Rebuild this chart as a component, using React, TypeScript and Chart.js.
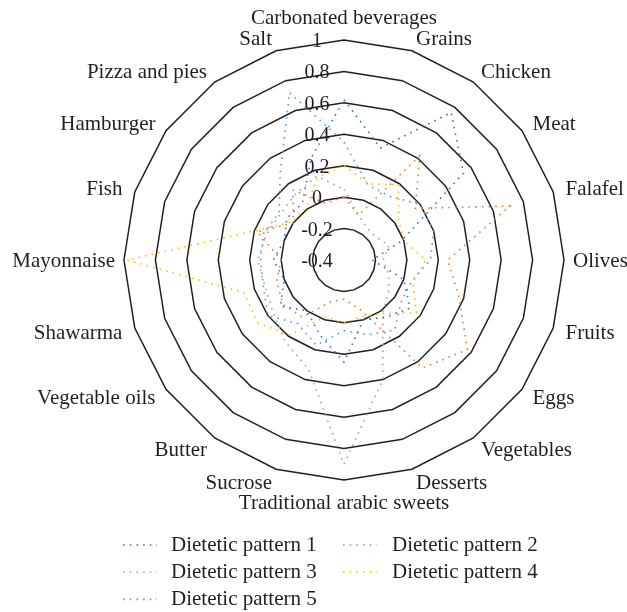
import React, { useEffect, useRef } from "react";
import { Chart, registerables } from "chart.js";

Chart.register(...registerables);

const categories = [
  "Carbonated beverages", "Grains", "Chicken", "Meat", "Falafel", "Olives",
  "Fruits", "Eggs", "Vegetables", "Desserts", "Traditional arabic sweets",
  "Sucrose", "Butter", "Vegetable oils", "Shawarma", "Mayonnaise", "Fish",
  "Hamburger", "Pizza and pies", "Salt",
];

const tickValues = [-0.4, -0.2, 0, 0.2, 0.4, 0.6, 0.8, 1];
const tickLabels = ["-0.4", "-0.2", "0", "0.2", "0.4", "0.6", "0.8", "1"];

const seriesNames = [
  "Dietetic pattern 1", "Dietetic pattern 2", "Dietetic pattern 3",
  "Dietetic pattern 4", "Dietetic pattern 5",
];
const seriesColors = ["#3574c4", "#ed7d31", "#a5a5a5", "#ffc000", "#4aa3df"];

const pattern1 = [0.62, 0.35, 0.76, 0.54, -0.02, -0.22, 0.0, 0.12, 0.05, 0.0, 0.25, 0.1, 0.0, 0.1, 0.0, 0.05, 0.0, 0.05, 0.05, 0.28];
const pattern2 = [0.0, -0.1, 0.42, 0.16, 0.71, 0.26, 0.37, 0.57, 0.45, -0.07, -0.15, -0.12, 0.05, 0.08, 0.05, 0.0, 0.18, 0.0, 0.15, -0.02];
const pattern3 = [0.05, -0.1, -0.15, -0.15, -0.1, -0.15, -0.1, -0.05, 0.02, 0.4, 0.9, 0.33, 0.24, 0.16, 0.13, 0.15, 0.12, 0.1, 0.12, 0.16];
const pattern4 = [0.2, 0.11, 0.19, 0.03, 0.0, 0.12, 0.06, 0.17, 0.02, -0.02, 0.0, -0.02, 0.19, 0.28, 0.27, 0.98, 0.2, 0.01, 0.01, 0.15];
const pattern5 = [0.35, 0.1, 0.1, 0.2, 0.2, 0.15, 0.05, 0.05, 0.15, 0.1, 0.05, 0.17, 0.1, 0.2, 0.14, 0.13, 0.14, 0.11, 0.29, 0.72];

const seriesData = [pattern1, pattern2, pattern3, pattern4, pattern5];

const FONT = '"Liberation Serif", "Times New Roman", serif';
const TEXT = "#231f20";
const DASH = [1.6, 5.1];

const textPlugin = {
  id: "textPlugin",
  afterDraw(chart: any) {
    const scale = chart.scales.r;
    const ctx = chart.ctx as CanvasRenderingContext2D;
    ctx.save();
    ctx.fillStyle = TEXT;
    ctx.textBaseline = "alphabetic";

    // category labels
    ctx.font = `21px ${FONT}`;
    const R = scale.drawingArea;
    const n = categories.length;
    categories.forEach((label, i) => {
      const ang = (i * 360) / n;
      const gap = ang === 90 || ang === 270 ? 9 : 13;
      const p = scale.getPointPosition(i, R + gap);
      let y = p.y + 7;
      let align: CanvasTextAlign = "left";
      if (ang === 0) { align = "center"; y = p.y - 3; }
      else if (ang === 180) { align = "center"; y = p.y + 16; }
      else align = ang < 180 ? "left" : "right";
      ctx.textAlign = align;
      ctx.fillText(label, p.x, y);
    });

    // tick labels
    ctx.font = `20px ${FONT}`;
    ctx.textAlign = "center";
    tickValues.forEach((v, i) => {
      const d = scale.getDistanceFromCenterForValue(v);
      ctx.fillText(tickLabels[i], scale.xCenter - 27, scale.yCenter - d + 7);
    });

    // legend
    ctx.font = `21px ${FONT}`;
    ctx.textAlign = "left";
    seriesNames.forEach((name, i) => {
      const col = i % 2;
      const row = Math.floor(i / 2);
      const lx = col ? 343 : 123;
      const tx = col ? 392 : 171;
      const ry = 544 + row * 27.2;
      ctx.save();
      ctx.strokeStyle = seriesColors[i];
      ctx.lineWidth = 1.6;
      ctx.setLineDash(DASH);
      ctx.beginPath();
      ctx.moveTo(lx, ry + 1);
      ctx.lineTo(lx + 34, ry + 1);
      ctx.stroke();
      ctx.restore();
      ctx.fillStyle = TEXT;
      ctx.fillText(name, tx, ry + 7);
    });
    ctx.restore();
  },
};

export default function App() {
  const ref = useRef<HTMLCanvasElement | null>(null);
  useEffect(() => {
    if (!ref.current) return;
    const chart = new Chart(ref.current, {
      type: "radar",
      data: {
        labels: categories,
        datasets: seriesNames.map((name, i) => ({
          label: name,
          data: seriesData[i],
          borderColor: seriesColors[i],
          backgroundColor: "transparent",
          borderWidth: 1.6,
          borderDash: DASH,
          pointRadius: 0,
          pointHoverRadius: 0,
          fill: false,
          tension: 0,
        })),
      },
      options: {
        responsive: false,
        animation: false,
        layout: { padding: { left: 124, right: 63, top: 40, bottom: 132 } },
        plugins: { legend: { display: false }, tooltip: { enabled: false } },
        scales: {
          r: {
            min: -0.4,
            max: 1,
            ticks: { stepSize: 0.2, display: false },
            grid: { color: TEXT, lineWidth: 1.5, circular: false },
            angleLines: { display: false },
            pointLabels: { display: false },
          },
        },
      },
      plugins: [textPlugin],
    });
    return () => chart.destroy();
  }, []);
  return (
    <div style={{ position: "absolute", left: 0, top: 0, width: 627, height: 612, background: "#fff" }}>
      <canvas ref={ref} width={627} height={612} style={{ width: 627, height: 612 }} />
    </div>
  );
}
